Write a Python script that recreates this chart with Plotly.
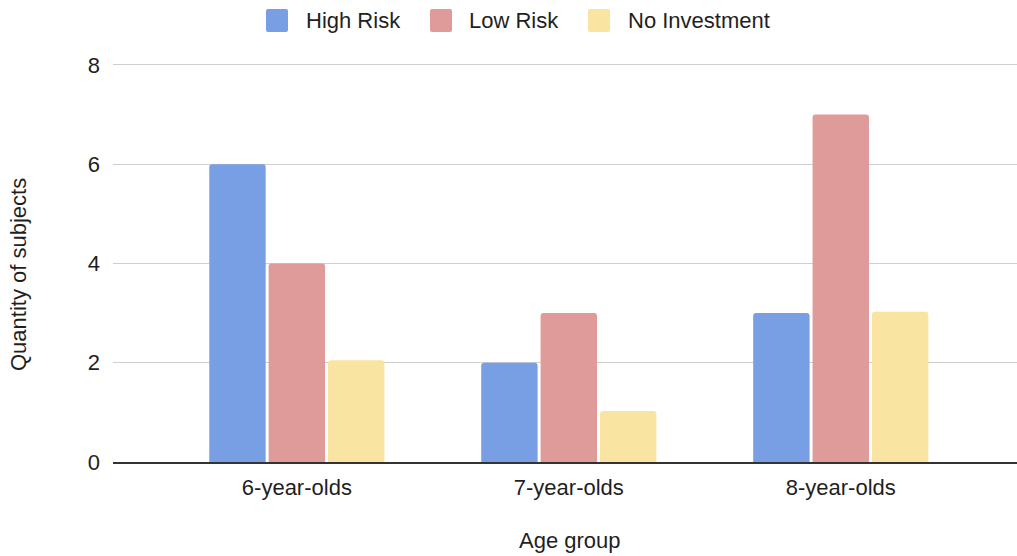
import plotly.graph_objects as go

categories = ["6-year-olds", "7-year-olds", "8-year-olds"]
series_names = ["High Risk", "Low Risk", "No Investment"]
high_risk = [6, 2, 3]
low_risk = [4, 3, 7]
no_investment = [2.05, 1.03, 3.03]
y_ticks = [0, 2, 4, 6, 8]
colors = ["#789ee4", "#de9b9a", "#f9e5a1"]

FONT = "Liberation Sans, Arial, sans-serif"
TXT = "#1f1f1f"
L, R, T, B = 113, 0, 62, 94
W, H = 1017, 556
PW, PH = W - L - R, H - T - B


def px(xp):
    return (xp - L) / PW


def py(yp):
    return (H - B - yp) / PH


fig = go.Figure()
for name, vals, col in zip(series_names, [high_risk, low_risk, no_investment], colors):
    fig.add_trace(go.Bar(x=categories, y=vals, name=name, showlegend=False,
                         marker=dict(color=col, line=dict(width=0))))

# custom legend (larger rounded swatches like the reference)
legend_swatch_x = [266, 430, 588]
legend_text_x = [304, 467, 626]
shapes, annotations = [], []
for name, col, sx, tx in zip(series_names, colors, legend_swatch_x, legend_text_x):
    x0, x1, y0, y1 = sx, sx + 22, 9, 32
    r = 2
    path = (f"M {px(x0 + r)},{py(y0)} L {px(x1 - r)},{py(y0)} Q {px(x1)},{py(y0)} {px(x1)},{py(y0 + r)} "
            f"L {px(x1)},{py(y1 - r)} Q {px(x1)},{py(y1)} {px(x1 - r)},{py(y1)} "
            f"L {px(x0 + r)},{py(y1)} Q {px(x0)},{py(y1)} {px(x0)},{py(y1 - r)} "
            f"L {px(x0)},{py(y0 + r)} Q {px(x0)},{py(y0)} {px(x0 + r)},{py(y0)} Z")
    shapes.append(dict(type="path", xref="paper", yref="paper", path=path,
                       fillcolor=col, line=dict(width=0), layer="above"))
    annotations.append(dict(text=name, xref="paper", yref="paper", x=px(tx), y=py(20.5),
                            xanchor="left", yanchor="middle", showarrow=False,
                            font=dict(size=22, color=TXT)))

annotations += [
    dict(text="Age group", xref="paper", yref="paper", x=px(570), y=py(540),
         showarrow=False, xanchor="center", yanchor="middle", font=dict(size=22, color=TXT)),
    dict(text="Quantity of subjects", xref="paper", yref="paper", x=px(18), y=py(275),
         showarrow=False, xanchor="center", yanchor="middle", textangle=-90, font=dict(size=22, color=TXT)),
]

fig.update_layout(
    width=W, height=H,
    margin=dict(l=L, r=R, t=T, b=B),
    paper_bgcolor="white", plot_bgcolor="white",
    barmode="group", bargap=0.345, bargroupgap=0.05, barcornerradius=3,
    font=dict(family=FONT, size=22, color=TXT),
    showlegend=False,
    xaxis=dict(range=[-0.676, 2.648], showgrid=False, showline=True, linecolor="#333", linewidth=1.5,
               ticks="", tickfont=dict(size=22, color=TXT), ticklabelstandoff=5),
    yaxis=dict(range=[0, 8.06], tickvals=y_ticks, showgrid=True, gridcolor="#cfcfcf", gridwidth=1,
               zeroline=False, showline=False, ticks="", tickfont=dict(size=22, color=TXT),
               ticklabelstandoff=12),
    shapes=shapes,
    annotations=annotations,
)
fig.write_html("out.html")
